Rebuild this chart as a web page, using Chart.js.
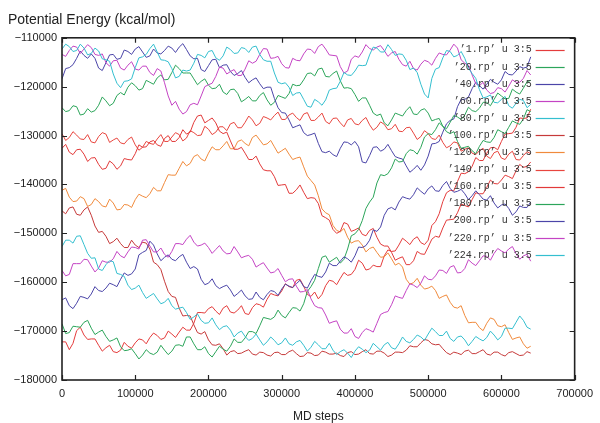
<!DOCTYPE html>
<html>
<head>
<meta charset="utf-8">
<script src="https://cdn.jsdelivr.net/npm/chart.js@4"></script>
<style>
  html, body { margin: 0; background: #fff; }
</style>
</head>
<body>
<canvas id="energyChart" width="600" height="423"></canvas>
<script>
// MD steps, sampled every 5000
const steps = [
  0, 5000, 10000, 15000, 20000, 25000, 30000, 35000, 40000, 45000,
  50000, 55000, 60000, 65000, 70000, 75000, 80000, 85000, 90000, 95000,
  100000, 105000, 110000, 115000, 120000, 125000, 130000, 135000, 140000, 145000,
  150000, 155000, 160000, 165000, 170000, 175000, 180000, 185000, 190000, 195000,
  200000, 205000, 210000, 215000, 220000, 225000, 230000, 235000, 240000, 245000,
  250000, 255000, 260000, 265000, 270000, 275000, 280000, 285000, 290000, 295000,
  300000, 305000, 310000, 315000, 320000, 325000, 330000, 335000, 340000, 345000,
  350000, 355000, 360000, 365000, 370000, 375000, 380000, 385000, 390000, 395000,
  400000, 405000, 410000, 415000, 420000, 425000, 430000, 435000, 440000, 445000,
  450000, 455000, 460000, 465000, 470000, 475000, 480000, 485000, 490000, 495000,
  500000, 505000, 510000, 515000, 520000, 525000, 530000, 535000, 540000, 545000,
  550000, 555000, 560000, 565000, 570000, 575000, 580000, 585000, 590000, 595000,
  600000, 605000, 610000, 615000, 620000, 625000, 630000, 635000, 640000
];

const xTicks = [0, 100000, 200000, 300000, 400000, 500000, 600000, 700000];
const yTicks = [-180000, -170000, -160000, -150000, -140000, -130000, -120000, -110000];

const legendLabels = [
  '’1.rp’ u 3:5', '’20.rp’ u 3:5', '’40.rp’ u 3:5', '’60.rp’ u 3:5', '’80.rp’ u 3:5',
  '’100.rp’ u 3:5', '’120.rp’ u 3:5', '’140.rp’ u 3:5', '’160.rp’ u 3:5', '’180.rp’ u 3:5',
  '’200.rp’ u 3:5', '’220.rp’ u 3:5', '’224.rp’ u 3:5'
];
const lineColors = [
  '#e43c3c', '#2ca55a', '#4b45a8', '#c444c4', '#34bfcf',
  '#c63a3a', '#f08a3c', '#e8463f', '#e23a3a', '#2ca55a',
  '#4b45a8', '#c444c4', '#34bfcf'
];

// potential energy (kcal/mol), one list per run
const rp1 = [
  -172200, -172200, -173800, -172500, -169900, -169200, -170800, -171700, -171600, -171600, -172900, -174100, -173400, -172900, -174200, -174400, -173900, -172300, -173100, -173500,
  -172400, -171600, -171800, -172600, -171300, -170400, -170900, -171700, -171400, -170000, -170600, -171300, -170200, -169200, -169800, -169800, -168400, -166200, -166200, -166300,
  -165400, -165000, -165900, -166600, -165300, -164800, -166100, -166300, -165700, -164800, -166400, -166600, -165200, -164400, -164600, -165100, -163500, -162300, -162600, -162800,
  -161800, -160300, -160900, -161100, -159600, -159400, -160800, -162500, -162900, -162000, -163400, -162500, -160700, -159600, -159800, -160500, -159200, -158000, -158600, -158400,
  -157400, -155500, -156100, -157500, -157300, -156500, -156800, -156800, -154600, -153400, -153700, -153600, -152400, -151000, -151600, -152300, -151200, -150700, -151900, -152300,
  -151400, -148400, -147600, -146000, -143500, -141700, -141200, -141300, -139400, -137700, -137800, -137400, -136300, -134500, -135100, -135100, -133600, -132500, -132400, -132900,
  -131200, -129700, -129600, -129500, -128300, -126400, -126500, -126400, -124600
];
const rp20 = [
  -124300, -125100, -124900, -123900, -124100, -125800, -125600, -124500, -125200, -124900, -123800, -122100, -122900, -123900, -123400, -121800, -121200, -121700, -120100, -119200,
  -119800, -120700, -120400, -118700, -119100, -119500, -118200, -117600, -118600, -118500, -117100, -115600, -116300, -117200, -117200, -117200, -118400, -119600, -118900, -118400,
  -119700, -120400, -120300, -119500, -121100, -121600, -120600, -120500, -121400, -123100, -122600, -122000, -122900, -122900, -121800, -121200, -122700, -123800, -123200, -121800,
  -122100, -122400, -121400, -119500, -119800, -119700, -118600, -117300, -117200, -117800, -116400, -116200, -117900, -118000, -117300, -116800, -118800, -120300, -120200, -120400,
  -121600, -123000, -122300, -122300, -123800, -125400, -125900, -125600, -127400, -128000, -126800, -125400, -125700, -126000, -124900, -124100, -125600, -125700, -124800, -124500,
  -125400, -127000, -126700, -126500, -128100, -129200, -129600, -129200, -131200, -132600, -132400, -132200, -133100, -133700, -132200, -131000, -131300, -131400, -130400, -128800,
  -129200, -129600, -128300, -127000, -127400, -127700, -126600, -124700, -125100
];
const rp40 = [
  -118400, -116300, -116100, -115500, -114200, -112700, -113600, -114200, -113300, -114200, -116200, -116700, -115100, -113500, -113400, -114400, -114200, -112500, -112800, -113400,
  -112300, -111800, -112900, -114000, -113700, -112300, -113100, -113300, -112600, -111700, -112100, -113000, -111900, -111200, -112400, -113700, -114300, -114200, -116500, -116900,
  -115700, -114500, -114400, -116100, -115600, -115500, -116900, -117700, -117300, -116700, -118100, -119200, -118600, -118200, -119400, -120400, -120100, -120100, -122400, -124300,
  -125300, -125400, -126800, -128400, -128100, -127800, -129400, -130000, -129800, -129500, -131600, -133300, -133500, -133200, -133900, -134300, -132600, -131300, -131400, -131900,
  -131200, -132300, -135400, -135600, -134100, -132400, -132300, -133200, -132800, -131800, -133100, -134300, -134600, -134800, -136200, -137500, -136900, -136100, -137100, -136000,
  -134200, -131700, -131600, -131200, -129300, -127600, -126900, -126600, -124100, -122600, -122600, -122100, -120400, -119100, -119800, -120500, -119500, -118500, -119100, -119500,
  -118600, -116900, -117500, -117600, -116800, -115900, -116200, -116000, -113900
];
const rp60 = [
  -113400, -113800, -112600, -111700, -111900, -113200, -112300, -111400, -112000, -113400, -113600, -113300, -115100, -115800, -114700, -114600, -116200, -116600, -115600, -114900,
  -116400, -116600, -115800, -115800, -117100, -117700, -116300, -116800, -119200, -121900, -123800, -123000, -124600, -125600, -125100, -123700, -123400, -123700, -121900, -120000,
  -119600, -119300, -117900, -116000, -116200, -117400, -116900, -116500, -117700, -117700, -116400, -114700, -115200, -114800, -113400, -112200, -112300, -114200, -114100, -113800,
  -115300, -116100, -116200, -114200, -114600, -114700, -113300, -112300, -112400, -113200, -111800, -111300, -112300, -113500, -113600, -113700, -115900, -117200, -116800, -114400,
  -113700, -114000, -112900, -111400, -112200, -112500, -111900, -111600, -112600, -113800, -113100, -112800, -114400, -115500, -115800, -114800, -116300, -116600, -115400, -114600,
  -114900, -115600, -114200, -113100, -113400, -113500, -112500, -111300, -112100, -114500, -115200, -115600, -117600, -119400, -119800, -119100, -120700, -121400, -121200, -120200,
  -120400, -121100, -119900, -118600, -119100, -119100, -118300, -116700, -117600
];
const rp80 = [
  -112300, -111300, -111800, -112800, -112600, -111300, -112100, -113500, -113200, -112100, -112700, -114300, -114500, -114800, -117400, -119300, -120200, -118900, -118800, -118400,
  -116100, -114100, -113900, -113400, -112200, -111300, -112900, -114500, -114600, -114900, -116300, -118200, -117900, -116600, -116800, -116600, -115200, -113400, -113600, -114100,
  -112800, -112600, -114100, -114600, -113700, -111900, -112400, -113200, -113100, -112000, -112200, -113000, -111900, -111700, -113400, -114500, -114800, -114800, -117200, -119100,
  -119400, -119200, -120100, -121800, -121300, -121200, -122600, -124000, -124200, -122600, -123100, -123800, -122700, -120700, -120400, -120300, -118900, -117100, -117600, -117700,
  -116800, -115600, -115700, -115600, -113500, -111900, -112100, -112900, -112900, -111400, -112400, -113600, -113300, -113400, -114600, -116500, -116200, -117100, -119500, -121500,
  -122300, -118300, -116400, -116100, -114100, -112600, -112800, -113900, -113600, -112800, -114200, -116200, -117300, -118300, -120600, -122300, -122100, -121700, -123200, -123300,
  -122600, -122000, -123900, -124400, -123400, -122600, -122800, -124300, -123600
];
const rp100 = [
  -145400, -146000, -144800, -144600, -146100, -146300, -145200, -144600, -146300, -148500, -149800, -149600, -150600, -152100, -151700, -151000, -152100, -152900, -152900, -151400,
  -152400, -152900, -151800, -152000, -153200, -155900, -156400, -157400, -159800, -161900, -162900, -163100, -165300, -166900, -166800, -166900, -168700, -170300, -170600, -170100,
  -171800, -172800, -172900, -172600, -173600, -174900, -174200, -174000, -174600, -174500, -174100, -173800, -174700, -174900, -174300, -174400, -174900, -175100, -174400, -174300,
  -174800, -174800, -174200, -173900, -174600, -175200, -175100, -174400, -174500, -175000, -174900, -174100, -174300, -174700, -174700, -174500, -175000, -175200, -174400, -174200,
  -174800, -174700, -174200, -173800, -174600, -174700, -174100, -174100, -174500, -175200, -174900, -174300, -174300, -174400, -173900, -173000, -173200, -173200, -172400, -171700,
  -171900, -172600, -172800, -172700, -173600, -174400, -174800, -174300, -174500, -174800, -174100, -173900, -174600, -174600, -174200, -173800, -174700, -174900, -174300, -174300,
  -174800, -175100, -174400, -174200, -174600, -175000, -174900, -174200, -174500
];
const rp120 = [
  -141200, -140800, -142600, -143500, -143400, -142500, -142900, -144500, -144100, -142900, -143500, -144400, -144600, -143000, -143800, -145200, -145100, -144100, -144200, -144700,
  -143100, -142000, -142400, -142700, -141900, -140600, -141300, -141300, -139600, -138000, -138100, -138100, -136700, -135300, -136200, -135700, -134300, -133900, -134800, -135200,
  -133600, -132300, -132900, -132900, -132100, -131200, -132700, -132700, -131200, -130900, -131600, -132100, -130400, -129900, -130900, -131900, -131700, -131000, -132300, -133600,
  -133100, -132600, -133800, -134900, -134600, -134400, -136400, -138300, -139200, -140100, -142300, -145000, -145800, -146200, -148400, -149400, -149700, -149000, -150800, -152000,
  -151600, -151500, -152400, -153800, -153100, -152800, -153900, -154900, -154800, -154000, -155200, -156500, -156100, -156900, -159400, -160400, -160100, -159200, -160600, -161400,
  -161200, -160800, -161700, -163300, -162900, -162600, -164100, -165100, -165300, -164800, -166800, -168300, -168200, -168200, -169300, -169900, -168400, -167300, -167600, -168900,
  -169100, -168700, -170300, -171700, -171400, -171200, -172600, -173500, -173100
];
const rp140 = [
  -129600, -131000, -130400, -129200, -129900, -130700, -130800, -129800, -131300, -131500, -130200, -129400, -129700, -131400, -130900, -130500, -131500, -131700, -130800, -130300,
  -131900, -133000, -132400, -131200, -131600, -131800, -130700, -129800, -131200, -131200, -130300, -129400, -129800, -131100, -130500, -129000, -129400, -130000, -129900, -128100,
  -128700, -129800, -129300, -128200, -128200, -129000, -127600, -127300, -128400, -128400, -127300, -126000, -126800, -128000, -127500, -126100, -126400, -126800, -125900, -125200,
  -126700, -126700, -125800, -125400, -126300, -126900, -125600, -125300, -126900, -126900, -126200, -125400, -127100, -127600, -126500, -126400, -127400, -128200, -126800, -126500,
  -127600, -127800, -126900, -126300, -127800, -128900, -128300, -127200, -127700, -128800, -128600, -127700, -129100, -129200, -128400, -128300, -129500, -130800, -130200, -129000,
  -129600, -130600, -130800, -129900, -131400, -132500, -132100, -131300, -131500, -133200, -132800, -132500, -133600, -133900, -133100, -132600, -134200, -134700, -133500, -133200,
  -134600, -134900, -133800, -133200, -134900, -135000, -134100, -133300, -133700
];
const rp160 = [
  -132600, -131800, -133400, -133900, -132900, -132800, -133800, -135300, -134600, -134500, -135900, -136900, -136700, -135200, -135800, -136900, -136200, -134700, -134900, -135000,
  -133700, -131900, -132400, -132300, -131300, -131000, -131900, -132200, -130600, -130000, -131200, -131200, -130400, -128800, -129700, -129300, -127300, -126000, -125800, -127400,
  -126900, -126400, -127400, -129100, -129600, -129300, -131100, -132800, -132800, -132400, -133600, -134900, -134900, -134200, -135800, -137000, -137200, -137200, -138400, -140200,
  -140100, -140000, -141800, -141800, -141100, -140100, -141600, -142900, -142700, -142800, -143900, -146400, -146800, -147300, -149200, -150000, -149600, -147800, -148100, -149600,
  -149300, -148900, -150200, -150500, -149400, -149000, -150800, -152200, -152600, -152600, -153900, -155500, -155100, -154800, -156400, -156400, -155600, -153700, -154200, -154300,
  -152800, -151200, -150600, -150800, -148900, -147300, -147200, -147100, -145800, -144000, -144300, -144600, -143100, -141700, -141900, -141900, -140600, -139100, -139800, -139900,
  -139100, -138100, -138400, -138800, -137200, -135900, -136500, -136300, -135400
];
const rp180 = [
  -168500, -170500, -170300, -169000, -169100, -169200, -168200, -167800, -169400, -170700, -170200, -169800, -171100, -172100, -171800, -171400, -173200, -174000, -173900, -173600,
  -174600, -175700, -174900, -173800, -174500, -174800, -174300, -172900, -173900, -174800, -174100, -172900, -172800, -173100, -171200, -171200, -172600, -173800, -173800, -173200,
  -174600, -175300, -174200, -173100, -173700, -174100, -173100, -171600, -172300, -172300, -171400, -170100, -170100, -170500, -168900, -167200, -167400, -167600, -167100, -165700,
  -166800, -167300, -166200, -165200, -165300, -165900, -164400, -161900, -160900, -159600, -157200, -154900, -154600, -155900, -155400, -154900, -156100, -155300, -153200, -150500,
  -150100, -149200, -147400, -144900, -143600, -142600, -139700, -138000, -138200, -137800, -136600, -134800, -135400, -135300, -133700, -132900, -133100, -133800, -132400, -130300,
  -129600, -129800, -128800, -127400, -128100, -128600, -127300, -125900, -126200, -126700, -125800, -124200, -124900, -125100, -124400, -123200, -123200, -123900, -122600, -121300,
  -121900, -122500, -122400, -120500, -121100, -121500, -120300, -119000, -118700
];
const rp200 = [
  -163600, -163200, -164800, -165400, -164300, -162900, -163100, -163400, -162400, -160900, -161700, -161900, -161200, -160200, -160500, -160900, -159400, -158100, -158600, -158300,
  -157300, -154400, -153900, -153500, -151600, -152400, -154200, -155600, -154900, -154400, -155300, -155600, -154800, -154300, -155900, -157200, -156800, -157300, -159400, -160500,
  -160200, -159300, -160700, -161300, -160900, -160600, -161600, -162900, -162300, -161600, -162800, -163500, -163400, -162000, -163100, -163600, -162500, -161700, -161900, -162700,
  -161400, -160400, -160800, -161100, -160300, -159600, -160900, -161200, -159700, -158400, -158800, -159000, -157900, -156100, -156600, -156600, -155700, -154800, -155200, -155900,
  -154600, -152800, -152900, -152500, -151400, -149300, -149600, -148700, -146300, -145000, -144700, -145200, -143600, -142500, -142800, -143000, -142100, -140700, -141400, -142000,
  -140900, -140300, -141300, -141400, -140200, -139400, -140800, -141600, -141400, -141000, -141900, -143100, -142300, -141300, -142100, -143000, -143200, -142300, -143800, -144800,
  -144200, -144000, -144900, -146300, -145600, -144400, -144700, -144700, -143600
];
const rp220 = [
  -157600, -158700, -158400, -156200, -156200, -156200, -155300, -155400, -156700, -157900, -157100, -155600, -155900, -155900, -155200, -153700, -154600, -155000, -153800, -152800,
  -152900, -153200, -151400, -151300, -152600, -153800, -153800, -153000, -154300, -154900, -153700, -152100, -152100, -152300, -151200, -150400, -151800, -152600, -152400, -152000,
  -152900, -154100, -153300, -152500, -153600, -154200, -154100, -152700, -153800, -155000, -154700, -154500, -155300, -156900, -156400, -156000, -157100, -158100, -157900, -157200,
  -158600, -159900, -159400, -159300, -160800, -162000, -161900, -161500, -163400, -164800, -165200, -165300, -166700, -168400, -168100, -167900, -169600, -170400, -170400, -169500,
  -171100, -171500, -170300, -169500, -169800, -170200, -168400, -166600, -166200, -166000, -164600, -162800, -163100, -163300, -161700, -160300, -160600, -161100, -160200, -158700,
  -159400, -159500, -158700, -157500, -157600, -158200, -156900, -156600, -158100, -158000, -157200, -155400, -156100, -156600, -155600, -154600, -154700, -155500, -154100, -153100,
  -153600, -154000, -153200, -152700, -154200, -155300, -154600, -154300, -155700
];
const rp224 = [
  -152700, -151400, -151400, -152000, -150600, -150500, -152300, -154100, -155100, -155000, -157300, -157600, -156400, -155600, -155800, -158200, -158400, -158800, -160600, -161500,
  -161200, -160600, -162100, -163300, -162800, -162300, -163400, -164400, -164100, -163300, -164800, -165500, -165300, -165100, -166200, -167600, -167100, -166500, -167800, -168400,
  -168300, -167300, -168700, -169700, -169100, -168900, -169800, -171200, -170400, -170000, -171100, -171900, -171500, -170600, -171800, -172900, -172200, -171200, -171900, -172800,
  -172400, -171400, -172600, -172900, -172200, -171900, -172900, -174100, -173300, -172100, -172800, -173600, -173600, -172500, -173900, -174800, -174200, -173800, -174500, -175400,
  -174100, -173200, -173700, -174400, -173900, -172500, -173200, -173900, -172800, -172300, -173400, -173700, -172600, -171200, -172100, -172400, -171700, -170800, -171200, -171900,
  -170600, -169400, -170100, -170900, -170900, -170000, -171500, -172100, -171200, -171000, -171800, -173000, -172100, -171100, -171600, -172000, -171300, -170000, -170800, -171800,
  -171100, -169400, -169400, -169500, -168200, -166900, -167800, -169200, -169600
];

const runs = [rp1, rp20, rp40, rp60, rp80, rp100, rp120, rp140, rp160, rp180, rp200, rp220, rp224];

const INK = '#222';
const tickFont = { family: 'Liberation Sans, Arial, sans-serif', size: 11 };

// gnuplot-like frame, inward ticks and key drawn inside the plot
const gnuFrame = {
  id: 'gnuFrame',
  afterDatasetsDraw(chart) {
    const { ctx, chartArea: a, scales: { x, y } } = chart;
    ctx.save();
    ctx.strokeStyle = INK;
    ctx.lineWidth = 1.2;
    ctx.beginPath();
    x.ticks.forEach((t) => {
      const px = Math.round(x.getPixelForValue(t.value)) + 0.5;
      ctx.moveTo(px, a.bottom); ctx.lineTo(px, a.bottom - 5);
      ctx.moveTo(px, a.top); ctx.lineTo(px, a.top + 5);
    });
    y.ticks.forEach((t) => {
      const py = Math.round(y.getPixelForValue(t.value)) + 0.5;
      ctx.moveTo(a.left, py); ctx.lineTo(a.left + 5, py);
      ctx.moveTo(a.right, py); ctx.lineTo(a.right - 5, py);
    });
    ctx.stroke();
    ctx.lineWidth = 1.6;
    ctx.strokeRect(a.left, a.top, a.right - a.left, a.bottom - a.top);

    // key
    ctx.font = '10px "Liberation Mono", "DejaVu Sans Mono", monospace';
    ctx.textAlign = 'right';
    ctx.textBaseline = 'middle';
    ctx.lineWidth = 1.2;
    chart.data.datasets.forEach((ds, i) => {
      const ky = a.top + 12 + i * 17.1;
      ctx.fillStyle = '#333';
      ctx.fillText(ds.label, a.right - 43, ky);
      ctx.strokeStyle = ds.borderColor;
      ctx.beginPath();
      ctx.moveTo(a.right - 39, Math.round(ky) + 0.5);
      ctx.lineTo(a.right - 10, Math.round(ky) + 0.5);
      ctx.stroke();
    });
    ctx.restore();
  }
};

const datasets = runs.map((vals, i) => ({
  label: legendLabels[i],
  data: steps.map((s, j) => ({ x: s, y: vals[j] })),
  borderColor: lineColors[i],
  borderWidth: 1,
  pointRadius: 0,
  fill: false,
  tension: 0,
  order: -i,
}));

new Chart(document.getElementById('energyChart'), {
  type: 'line',
  data: { datasets },
  options: {
    responsive: false,
    animation: false,
    devicePixelRatio: 1,
    layout: { padding: { left: 8, right: 18, top: 0, bottom: 0 } },
    plugins: {
      legend: { display: false },
      tooltip: { enabled: false },
      title: {
        display: true,
        text: 'Potential Energy (kcal/mol)',
        align: 'start',
        color: INK,
        font: { family: 'Liberation Sans, Arial, sans-serif', size: 14, weight: 'normal' },
        padding: { top: 12, bottom: 9 },
      },
    },
    scales: {
      x: {
        type: 'linear',
        min: 0,
        max: 700000,
        afterBuildTicks: (s) => { s.ticks = xTicks.map((v) => ({ value: v })); },
        afterFit: (s) => { s.height = 43; },
        grid: { display: false, drawTicks: false },
        border: { display: false },
        ticks: { font: tickFont, color: INK, padding: 7, maxRotation: 0, autoSkip: false, callback: (v) => String(v) },
        title: {
          display: true,
          text: 'MD steps',
          color: INK,
          font: { family: 'Liberation Sans, Arial, sans-serif', size: 12, lineHeight: 1 },
          padding: { top: 0, bottom: 0 },
        },
      },
      y: {
        type: 'linear',
        min: -180000,
        max: -110000,
        afterBuildTicks: (s) => { s.ticks = yTicks.map((v) => ({ value: v })); },
        afterFit: (s) => { s.width = 54; },
        grid: { display: false, drawTicks: false },
        border: { display: false },
        ticks: {
          font: tickFont, color: INK, padding: 5,
          callback: (v) => (v < 0 ? '\u2212' : '') + Math.abs(v),
        },
      },
    },
  },
  plugins: [gnuFrame],
});
</script>
</body>
</html>
